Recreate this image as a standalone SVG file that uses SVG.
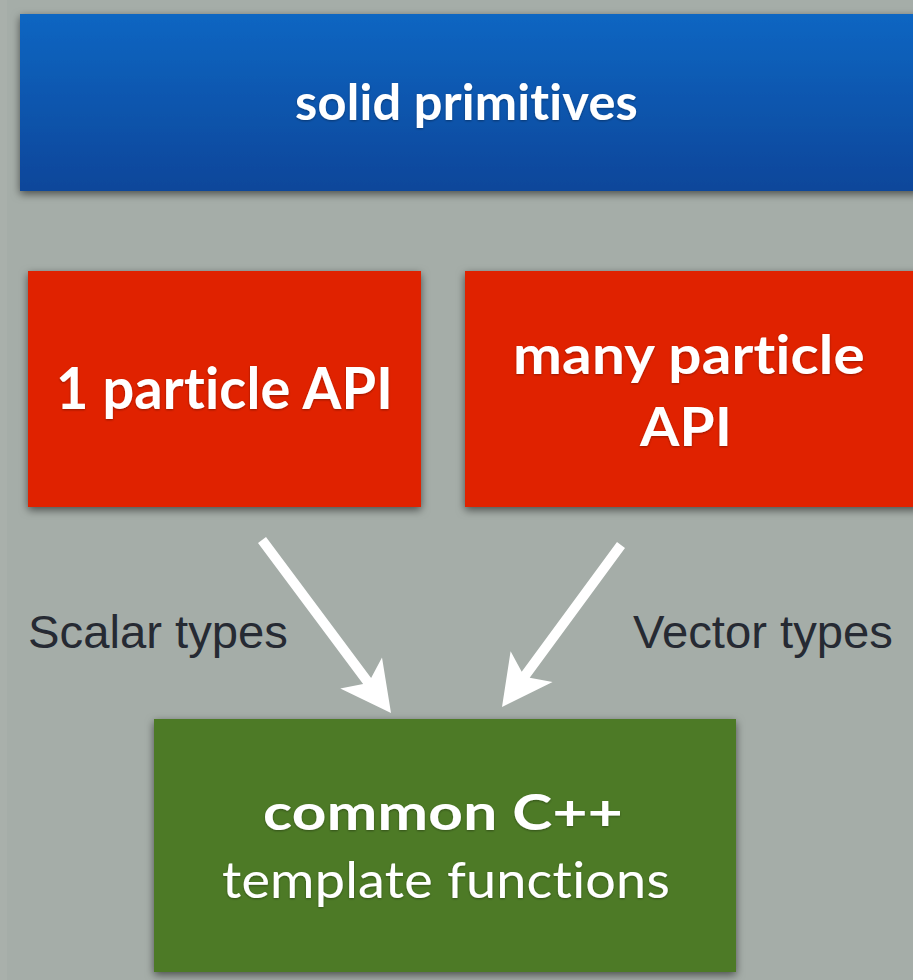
<svg xmlns="http://www.w3.org/2000/svg" width="913" height="980" viewBox="0 0 913 980">
  <defs>
    <linearGradient id="blueFill" x1="0" y1="0" x2="0" y2="1">
      <stop offset="0" stop-color="#0a66c2"/>
      <stop offset="1" stop-color="#07469a"/>
    </linearGradient>
    <filter id="boxShadow" x="-10%" y="-10%" width="120%" height="125%">
      <feDropShadow dx="0" dy="3" stdDeviation="4" flood-color="#000" flood-opacity="0.55"/>
    </filter>
    <filter id="textShadow" x="-5%" y="-20%" width="110%" height="140%">
      <feDropShadow dx="0" dy="1" stdDeviation="1" flood-color="#000" flood-opacity="0.35"/>
    </filter>
  </defs>
  <style>
    .box-label { font-family: Lato, "Open Sans", "Liberation Sans", sans-serif; fill: #ffffff; text-anchor: middle; letter-spacing: 0.2px; font-variant-ligatures: none; font-feature-settings: "liga" 0, "clig" 0, "dlig" 0; }
    .bold { font-weight: 700; }
    .edge-label { font-family: "Liberation Sans", Arial, sans-serif; font-size: 47px; fill: #262a33; }
    .arrow { fill: #ffffff; }
  </style>

  <!-- page background -->
  <rect x="0" y="0" width="913" height="980" fill="#a5ada8"/>
  <rect x="0" y="0" width="7" height="980" fill="#a9b0ab"/>

  <g id="solid-primitives">
    <rect x="20" y="14" width="900" height="177" fill="url(#blueFill)" filter="url(#boxShadow)"/>
    <text class="box-label bold" x="466.5" y="120" font-size="49" textLength="343" lengthAdjust="spacingAndGlyphs" filter="url(#textShadow)">solid primitives</text>
  </g>

  <g id="one-particle-api">
    <rect x="28" y="271" width="393" height="236" fill="#e02200" filter="url(#boxShadow)"/>
    <text class="box-label bold" x="224.5" y="409" font-size="58" textLength="337" lengthAdjust="spacingAndGlyphs" filter="url(#textShadow)">1 particle API</text>
  </g>

  <g id="many-particle-api">
    <rect x="465" y="271" width="455" height="236" fill="#e02200" filter="url(#boxShadow)"/>
    <text class="box-label bold" x="689" y="374" font-size="54" textLength="352" lengthAdjust="spacingAndGlyphs" filter="url(#textShadow)">many particle</text>
    <text class="box-label bold" x="686" y="446" font-size="54" textLength="92" lengthAdjust="spacingAndGlyphs" filter="url(#textShadow)">API</text>
  </g>

  <g id="common-template-functions">
    <rect x="154" y="719" width="582" height="253" fill="#4e7a28" filter="url(#boxShadow)"/>
    <text class="box-label bold" x="443" y="830" font-size="50" textLength="360" lengthAdjust="spacingAndGlyphs" filter="url(#textShadow)">common C++</text>
    <text class="box-label" x="446" y="898" font-size="51" textLength="448" lengthAdjust="spacingAndGlyphs" filter="url(#textShadow)">template functions</text>
  </g>

  <g id="connectors">
    <!-- scalar path: single-particle API to shared templates -->
    <polygon class="arrow" points="266,537 371.1,678 382,657.4 391,713 340.3,688.5 363.1,684 258,543"/>
    <!-- vector path: many-particle API to shared templates -->
    <polygon class="arrow" points="617,542 521.7,671.8 510.6,651.3 502,707 552.6,682.1 529.7,677.8 625,548"/>
    <text class="edge-label" x="28" y="648" textLength="260" lengthAdjust="spacingAndGlyphs">Scalar types</text>
    <text class="edge-label" x="633" y="648" textLength="260" lengthAdjust="spacingAndGlyphs">Vector types</text>
  </g>
</svg>
